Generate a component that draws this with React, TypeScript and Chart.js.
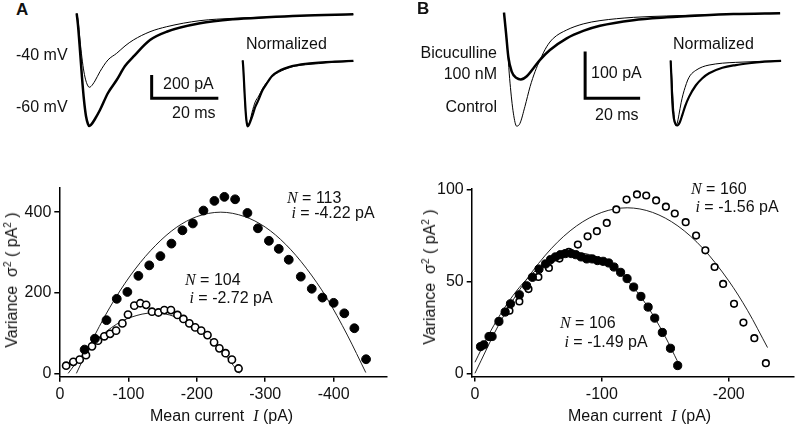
import React, { useEffect, useRef } from "react";
import { Chart, registerables } from "chart.js";
Chart.register(...registerables);

// ---------------- Data ----------------
// Panel A: example currents (time in ms, current in pA)
const traceATime = [0, 0.39, 0.99, 1.59, 2.19, 2.79, 3.39, 3.78, 4.29, 5.49, 6.99, 9.39, 12, 14.5, 17, 22, 27, 37, 47, 57, 67, 83];
const traceA60mV = [0, -100, -315, -546, -743, -880, -949, -966, -957, -906, -829, -683, -572, -452, -372, -229, -158, -86, -51, -34, -21, -9];
const traceA40mV = [0, -57, -229, -383, -503, -580, -623, -634, -627, -580, -500, -400, -343, -280, -229, -158, -115, -63, -43, -32, -21, -9];

// Panel B: example currents
const traceBTime = [0, 0.73, 1.56, 2.8, 4.6, 6.1, 8.3, 10.7, 13.1, 16.7, 22.8, 28.8, 34.9, 47, 59.2, 71.3, 83.4, 100.4];
const traceBBicuculline = [0, -43, -94, -126, -140, -143, -136, -119, -101, -80, -55, -39, -28, -16, -10, -6, -3, -1];
const traceBControlTime = [0, 0.98, 2.2, 3.4, 4.6, 5.8, 7.6, 9.5, 11.3, 13.1, 15.5, 17.9, 22.8, 28.8, 34.9, 47, 59.2, 83.4, 100.4];
const traceBControl = [0, -58, -151, -215, -243, -237, -201, -158, -126, -101, -73, -55, -37, -24, -17, -10, -7, -3, -1];

// Scale bars (ms, pA)
const scaleA = { ms: 20, pA: 200 };
const scaleB = { ms: 20, pA: 100 };

// Panel A: variance vs mean current
const aFilledI = [-36, -51, -68, -83, -98.5, -114.6, -130.5, -146.8, -162.9, -179, -194.2, -209.7, -225.7, -240.3, -256, -274, -289.3, -305.4, -319.8, -334.4, -352, -368, -383.6, -400, -415.6, -430.3, -447.4];
const aFilledVar = [59, 86, 132, 185, 202, 242, 268, 291, 322, 355, 372, 404, 428, 438, 432, 398, 360, 329, 309, 282, 240, 210, 188, 175, 149, 112, 35];
const aOpenI = [-9, -19.5, -28.8, -38, -46.8, -55.6, -64.8, -73.2, -82, -91.2, -99.4, -108.6, -117.4, -125.9, -134.5, -143.9, -152.5, -162.2, -171.7, -180.4, -189.1, -197.6, -206.4, -215.6, -225.2, -233, -242, -251.3, -261];
const aOpenVar = [19, 28.5, 34, 45, 67, 81, 92, 98, 106, 124, 146, 168, 174, 170, 153, 151, 157, 157, 145, 135, 124, 114, 106, 95, 77, 62, 50, 34, 12];
const aFilledFitI = [-24, -50, -80, -110, -140, -170, -200, -235, -270, -300, -330, -360, -390, -420, -447];
const aFilledFitVar = [0, 92, 184, 259, 318, 362, 389, 400, 389, 363, 320, 261, 187, 95, 2];
const aOpenFitI = [-12, -30, -60, -90, -120, -137, -160, -190, -220, -245, -262];
const aOpenFitVar = [0, 40, 93, 129, 147, 150, 145, 123, 84, 38, 0];
const aTicksX = [0, -100, -200, -300, -400];
const aTicksY = [0, 200, 400];

// Panel B: variance vs mean current
const bFilledI = [-4.4, -7.0, -11.1, -13.5, -18.9, -23.8, -28, -35, -40.7, -45.3, -50.5, -55.7, -59.6, -63.5, -67.4, -71.2, -75.9, -79.5, -83.7, -88.1, -92.5, -96.6, -101, -105.4, -109.6, -114.8, -119.9, -125.1, -130.8, -136.5, -141.7, -147.7, -154.1, -159.8];
const bFilledVar = [14.5, 15.5, 20, 20, 28.2, 33.3, 37.8, 42.7, 47.6, 52.2, 56.7, 59.5, 61.8, 63.3, 64.5, 65.1, 65.1, 64.5, 63.3, 62.2, 62.2, 61.3, 60.9, 60, 57.8, 54.9, 51.5, 46.9, 41.8, 36, 30, 22.2, 13.6, 4.2];
const bOpenI = [-27.2, -35, -42.2, -50, -58.3, -66.6, -74, -81.1, -88.8, -96.1, -103.9, -111.4, -119.5, -127.7, -135, -142.8, -150.5, -157.5, -166.1, -174.3, -181.6, -188.9, -195.6, -204.2, -211.6, -220.2, -229.3];
const bOpenVar = [34, 39.1, 45.8, 52.4, 57.3, 62.4, 66, 70, 74.5, 77.3, 81.8, 89.1, 94.5, 97.3, 96.7, 94, 90.6, 86.9, 82.2, 74.9, 66.9, 57.8, 48.6, 37.8, 27.6, 19.1, 5.5];
const bFilledFitI = [0, -10, -20, -30, -40, -50, -60, -70, -80, -90, -100, -110, -120, -130, -140, -150, -160];
const bFilledFitVar = [6, 19.9, 32, 42.3, 50.6, 57.1, 61.8, 64.6, 65.5, 64.6, 61.8, 57.1, 50.6, 42.3, 32, 19.9, 6];
const bOpenFitI = [0, -20, -40, -60, -80, -100, -120, -140, -160, -180, -200, -215, -230.6];
const bOpenFitVar = [0, 28, 50.3, 67.7, 80.1, 87.5, 90, 87.5, 80.1, 67.7, 50.3, 34, 14];
const bTicksX = [0, -100, -200];
const bTicksY = [0, 50, 100];

// ---------------- Helpers ----------------
const SANS = '"Liberation Sans", Arial, Helvetica, sans-serif';
const SERIF = '"Liberation Serif", "Times New Roman", serif';
type Pt = { x: number; y: number };
const zip = (xs: number[], ys: number[]): Pt[] => xs.map((x, i) => ({ x, y: ys[i] }));
const normalize = (ys: number[]) => {
  const peak = Math.min(...ys);
  return ys.map((v) => v / -peak);
};

const lineDs = (data: Pt[], width: number, color = "#000", order = 1) => ({
  data,
  showLine: true,
  borderColor: color,
  borderWidth: width,
  pointRadius: 0,
  fill: false,
  cubicInterpolationMode: "monotone",
  order,
});

const barDs = (t: number, i: number, s: { ms: number; pA: number }) => ({
  data: [
    { x: t, y: i + s.pA },
    { x: t, y: i },
    { x: t + s.ms, y: i },
  ],
  showLine: true,
  borderColor: "#000",
  borderWidth: 3,
  pointRadius: 0,
  tension: 0,
  borderJoinStyle: "miter",
  fill: false,
});

const baseOpts = {
  animation: false,
  responsive: false,
  devicePixelRatio: 1,
  events: [],
  plugins: { legend: { display: false }, tooltip: { enabled: false } },
};

function traceCfg(datasets: any[], xMin: number, xMax: number, yMin: number, yMax: number) {
  return {
    type: "scatter",
    data: { datasets },
    options: {
      ...baseOpts,
      layout: { padding: 0 },
      scales: {
        x: { type: "linear", display: false, min: xMin, max: xMax },
        y: { type: "linear", display: false, min: yMin, max: yMax },
      },
    },
  };
}

function axisCommon(ticks: number[]) {
  return {
    type: "linear",
    afterBuildTicks: (axis: any) => {
      axis.ticks = ticks.map((v) => ({ value: v }));
    },
    ticks: {
      color: "#111",
      font: { family: SANS, size: 16 },
      padding: 3,
      maxRotation: 0,
      autoSkip: false,
      callback: (v: any) => String(v),
    },
    grid: { drawOnChartArea: false, drawTicks: true, tickLength: 5, color: "#000", lineWidth: 1.5 },
    border: { display: true, color: "#000", width: 1.5 },
  };
}

function scatterCfg(
  datasets: any[],
  x: { min: number; max: number; ticks: number[]; height: number },
  y: { min: number; max: number; ticks: number[]; width: number },
  padding: { top: number; right: number }
) {
  return {
    type: "scatter",
    data: { datasets },
    options: {
      ...baseOpts,
      layout: { padding: { top: padding.top, right: padding.right, left: 0, bottom: 0 } },
      scales: {
        x: {
          ...axisCommon(x.ticks),
          reverse: true,
          min: x.min,
          max: x.max,
          afterFit: (s: any) => {
            s.height = x.height;
          },
        },
        y: {
          ...axisCommon(y.ticks),
          min: y.min,
          max: y.max,
          afterFit: (s: any) => {
            s.width = y.width;
          },
        },
      },
    },
  };
}

const filledDs = (data: Pt[], r: number) => ({
  data,
  showLine: false,
  pointRadius: r,
  pointBackgroundColor: "#000",
  pointBorderColor: "#000",
  pointBorderWidth: 1,
  order: 1,
});
const openDs = (data: Pt[], r: number) => ({
  data,
  showLine: false,
  pointRadius: r,
  pointBackgroundColor: "#fff",
  pointBorderColor: "#000",
  pointBorderWidth: 1.6,
  order: 2,
});

function ChartBox(props: { left: number; top: number; width: number; height: number; make: () => any }) {
  const ref = useRef<HTMLCanvasElement>(null);
  useEffect(() => {
    const chart = new Chart(ref.current as HTMLCanvasElement, props.make());
    return () => chart.destroy();
  }, []);
  return (
    <canvas
      ref={ref}
      width={props.width}
      height={props.height}
      style={{ position: "absolute", left: props.left, top: props.top, width: props.width, height: props.height }}
    />
  );
}

function T(props: { left?: number; right?: number; top: number; size?: number; bold?: boolean; children: any }) {
  const s = props.size || 16;
  return (
    <div
      style={{
        position: "absolute",
        left: props.left,
        right: props.right,
        top: props.top,
        fontSize: s,
        lineHeight: `${s}px`,
        fontWeight: props.bold ? "bold" : "normal",
        whiteSpace: "pre",
        textAlign: props.right !== undefined ? "right" : "left",
      }}
    >
      {props.children}
    </div>
  );
}

const It = (p: { children: any }) => (
  <span style={{ fontFamily: SERIF, fontStyle: "italic" }}>{p.children}</span>
);

function YTitle(props: { cx: number; cy: number }) {
  return (
    <div
      style={{
        position: "absolute",
        left: props.cx,
        top: props.cy,
        fontSize: 16,
        lineHeight: "16px",
        whiteSpace: "pre",
        transform: "translate(-50%, -50%) rotate(-90deg)",
      }}
    >
      {"Variance  \u03c3"}
      <sup style={{ fontSize: 10, verticalAlign: "6px" }}>2</sup>
      {" ( pA"}
      <sup style={{ fontSize: 10, verticalAlign: "6px" }}>2</sup>
      {" )"}
    </div>
  );
}

export default function App() {
  return (
    <div
      style={{
        position: "absolute",
        left: 0,
        top: 0,
        width: 799,
        height: 425,
        background: "#fff",
        fontFamily: SANS,
        color: "#111",
        overflow: "hidden",
      }}
    >
      {/* Panel A traces */}
      <ChartBox
        left={60}
        top={0}
        width={300}
        height={140}
        make={() =>
          traceCfg(
            [
              lineDs(zip(traceATime, traceA40mV), 1),
              lineDs(zip(traceATime, traceA60mV), 2.5),
              barDs(22.5, -728, scaleA),
            ],
            -5,
            85,
            -1086,
            114
          )
        }
      />
      <ChartBox
        left={235}
        top={50}
        width={125}
        height={80}
        make={() =>
          traceCfg(
            [
              lineDs(zip(traceATime, normalize(traceA40mV)), 1),
              lineDs(zip(traceATime, normalize(traceA60mV)), 2.2),
            ],
            -5.78,
            87.97,
            -1.056,
            0.156
          )
        }
      />
      {/* Panel B traces */}
      <ChartBox
        left={480}
        top={0}
        width={310}
        height={140}
        make={() =>
          traceCfg(
            [
              lineDs(zip(traceBControlTime, traceBControl), 1),
              lineDs(zip(traceBTime, traceBBicuculline), 2.5),
              barDs(29.5, -183, scaleB),
            ],
            -8.73,
            104,
            -272.6,
            27.2
          )
        }
      />
      <ChartBox
        left={660}
        top={50}
        width={130}
        height={80}
        make={() =>
          traceCfg(
            [
              lineDs(zip(traceBControlTime, normalize(traceBControl)), 1),
              lineDs(zip(traceBTime, normalize(traceBBicuculline)), 2.2),
            ],
            -9.7,
            108.5,
            -1.069,
            0.1615
          )
        }
      />

      {/* Panel A scatter */}
      <ChartBox
        left={0}
        top={175}
        width={400}
        height={250}
        make={() =>
          scatterCfg(
            [
              lineDs(zip(aFilledFitI, aFilledFitVar), 1, "#222", 3),
              lineDs(zip(aOpenFitI, aOpenFitVar), 1, "#222", 3),
              openDs(zip(aOpenI, aOpenVar), 3.6),
              filledDs(zip(aFilledI, aFilledVar), 4.4),
            ],
            { min: -478, max: 1, ticks: aTicksX, height: 48.3 },
            { min: -8.3, max: 461, ticks: aTicksY, width: 59.3 },
            { top: 10, right: 13 }
          )
        }
      />
      {/* Panel B scatter */}
      <ChartBox
        left={420}
        top={175}
        width={379}
        height={250}
        make={() =>
          scatterCfg(
            [
              lineDs(zip(bFilledFitI, bFilledFitVar), 1, "#222", 3),
              lineDs(zip(bOpenFitI, bOpenFitVar), 1, "#222", 3),
              openDs(zip(bOpenI, bOpenVar), 3.3),
              filledDs(zip(bFilledI, bFilledVar), 4.1),
            ],
            { min: -251, max: 2.56, ticks: bTicksX, height: 48.5 },
            { min: -1.75, max: 100.5, ticks: bTicksY, width: 51.7 },
            { top: 13.5, right: 1 }
          )
        }
      />

      {/* Panel A text */}
      <T left={16} top={1} size={17} bold>A</T>
      <T left={16} top={47}>-40 mV</T>
      <T left={16} top={99}>-60 mV</T>
      <T left={163} top={75.5}>200 pA</T>
      <T left={172} top={104.7}>20 ms</T>
      <T left={246} top={35.5}>Normalized</T>
      <T left={287} top={189.7}>
        <It>N</It>
        {" = 113"}
      </T>
      <T left={287} top={205}>
        {" "}
        <It>i</It>
        {" = -4.22 pA"}
      </T>
      <T left={185} top={272.2}>
        <It>N</It>
        {" = 104"}
      </T>
      <T left={185} top={289.7}>
        {" "}
        <It>i</It>
        {" = -2.72 pA"}
      </T>
      <T left={150} top={408}>
        {"Mean current  "}
        <It>I</It>
        {" (pA)"}
      </T>
      <YTitle cx={10} cy={280} />

      {/* Panel B text */}
      <T left={417} top={0} size={17} bold>B</T>
      <T right={302} top={45.2}>Bicuculline</T>
      <T right={302} top={65.5}>100 nM</T>
      <T right={302} top={99.2}>Control</T>
      <T left={591} top={65}>100 pA</T>
      <T left={595} top={106.7}>20 ms</T>
      <T left={673} top={35.9}>Normalized</T>
      <T left={691} top={181}>
        <It>N</It>
        {" = 160"}
      </T>
      <T left={691} top={198.5}>
        {" "}
        <It>i</It>
        {" = -1.56 pA"}
      </T>
      <T left={560} top={314.7}>
        <It>N</It>
        {" = 106"}
      </T>
      <T left={560} top={334}>
        {" "}
        <It>i</It>
        {" = -1.49 pA"}
      </T>
      <T left={568} top={408}>
        {"Mean current  "}
        <It>I</It>
        {" (pA)"}
      </T>
      <YTitle cx={428} cy={277} />
    </div>
  );
}
